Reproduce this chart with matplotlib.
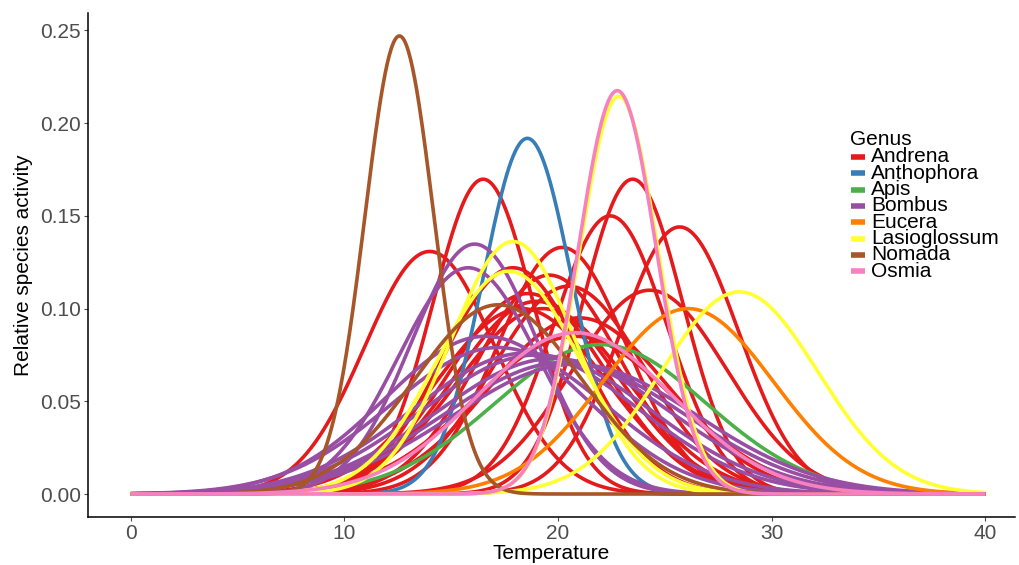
import numpy as np
import matplotlib
matplotlib.use("Agg")
import matplotlib.pyplot as plt
from matplotlib.lines import Line2D

plt.rcParams['font.family'] = ['Liberation Sans', 'DejaVu Sans']

genera = ["Andrena", "Anthophora", "Apis", "Bombus", "Eucera",
          "Lasioglossum", "Nomada", "Osmia"]
colors = ["#E41A1C", "#377EB8", "#4DAF4A", "#984EA3", "#FF7F00",
          "#FFFF33", "#A65628", "#F781BF"]

# per-species temperature optimum (mean) and breadth (sd) of activity curves
andrena_mean = [14.0, 16.5, 17.9, 18.6, 19.0, 19.3, 19.6, 20.2, 20.5, 21.0, 22.45, 23.5, 24.3, 25.7, 18.3, 20.8]
andrena_sd   = [3.05, 2.35, 3.27, 3.69, 3.84, 3.99, 3.38, 3.00, 3.56, 4.20, 2.66, 2.35, 3.63, 2.77, 3.99, 4.69]
anthophora_mean = [18.57]
anthophora_sd   = [2.08]
apis_mean = [22.0]
apis_sd   = [4.95]
bombus_mean = [16.1, 15.8, 16.6, 17.2, 18.5, 19.0, 19.8, 20.3, 20.8]
bombus_sd   = [2.96, 3.27, 4.69, 5.05, 5.25, 5.32, 5.46, 5.62, 5.70]
eucera_mean = [26.1]
eucera_sd   = [3.99]
lasio_mean = [22.85, 17.9, 17.7, 28.5]
lasio_sd   = [1.86, 2.93, 3.32, 3.66]
nomada_mean = [12.58, 17.2]
nomada_sd   = [1.615, 3.91]
osmia_mean = [22.78, 20.8]
osmia_sd   = [1.834, 4.585]

params = [
    (andrena_mean, andrena_sd),
    (anthophora_mean, anthophora_sd),
    (apis_mean, apis_sd),
    (bombus_mean, bombus_sd),
    (eucera_mean, eucera_sd),
    (lasio_mean, lasio_sd),
    (nomada_mean, nomada_sd),
    (osmia_mean, osmia_sd),
]

temperature = np.linspace(0, 40, 801)

fig = plt.figure(figsize=(10.19, 5.65), dpi=100)
ax = fig.add_axes([88/1019, (565-517)/565, (1015-88)/1019, (517-13)/565])

for (means, sds), col in zip(params, colors):
    for m, s in zip(means, sds):
        dens = np.exp(-0.5 * ((temperature - m) / s) ** 2) / (s * np.sqrt(2 * np.pi))
        ax.plot(temperature, dens, color=col, lw=2.6, solid_capstyle='butt')

FS = 15
ax.set_xlim(-2, 41.4)
ax.set_ylim(-0.0124, 0.2594)
ax.set_xticks([0, 10, 20, 30, 40])
ax.set_yticks([0, 0.05, 0.10, 0.15, 0.20, 0.25])
ax.set_yticklabels(["0.00", "0.05", "0.10", "0.15", "0.20", "0.25"])
for sp in ["top", "right"]:
    ax.spines[sp].set_visible(False)
for sp in ["left", "bottom"]:
    ax.spines[sp].set_linewidth(1.1)
    ax.spines[sp].set_color("black")
ax.tick_params(axis='both', colors="#4D4D4D", labelsize=FS, length=3, width=0.8, pad=2)
ax.set_xlabel("Temperature", fontsize=FS, color="black", labelpad=1)
ax.set_ylabel("Relative species activity", fontsize=FS, color="black", labelpad=5)

# legend (drawn manually to mimic tight ggplot spacing)
fig.text(850/1019, 1 - 140/565, "Genus", fontsize=FS, va='center', ha='left')
y0 = 157
for i, (g, c) in enumerate(zip(genera, colors)):
    yy = 1 - (y0 + i * 16.3) / 565
    fig.add_artist(Line2D([851/1019, 865/1019], [yy, yy], color=c, lw=4,
                          solid_capstyle='butt', transform=fig.transFigure))
    fig.text(871/1019, yy, g, fontsize=FS, va='center', ha='left')

fig.savefig("out.png", dpi=100)
